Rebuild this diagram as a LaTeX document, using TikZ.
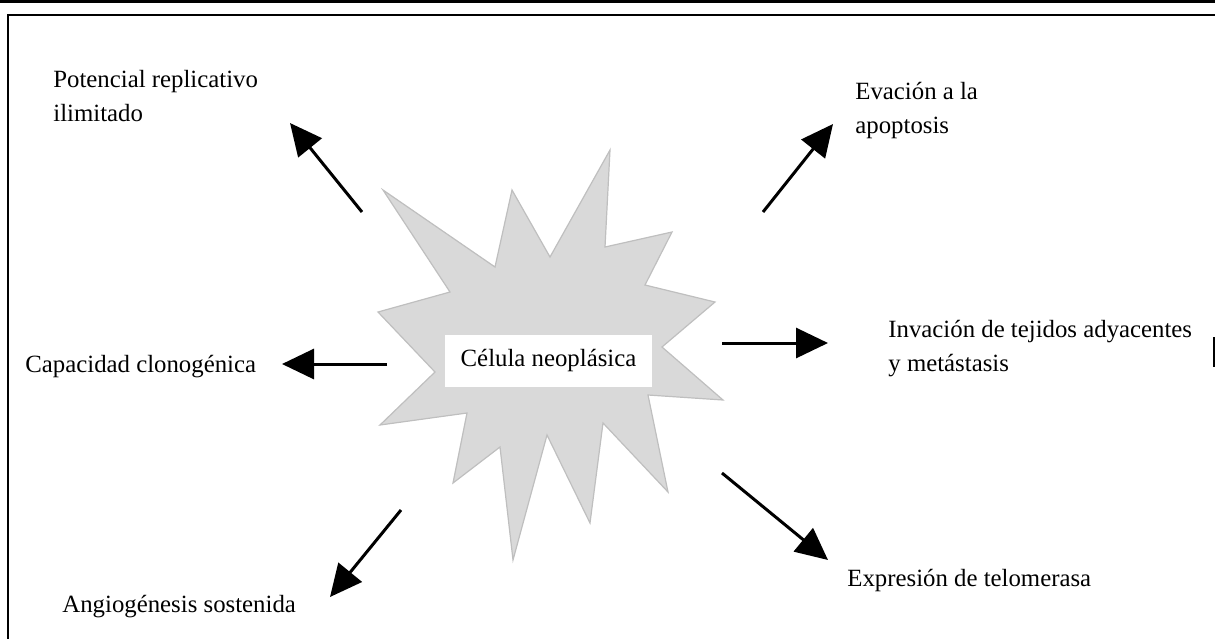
\documentclass[tikz,border=0pt]{standalone}
\usepackage{fontspec}
\setmainfont{Liberation Serif}
\usetikzlibrary{arrows.meta}

\definecolor{burstfill}{HTML}{D9D9D9}
\definecolor{burstedge}{HTML}{BFBFBF}

\tikzset{
	lbl/.style={inner sep=0pt, align=left, font=\fontsize{12.4}{17}\selectfont},
	rasgo/.style={line width=1.5pt, -{Triangle[length=16pt,width=15pt]}},
}

\begin{document}
\begin{tikzpicture}[x=0.5pt,y=-0.5pt]
		\useasboundingbox (0,0) rectangle (1215,639);
		% marco
		\draw[line width=1.3pt] (0,1.3) -- (1215,1.3);
		\draw[line width=1pt] (1215,15) -- (8,15) -- (8,639);
		\draw[line width=1pt] (1214,337) -- (1214,367);
		% celula
		\draw[fill=burstfill,draw=burstedge,line width=0.6pt]
			(383,190) -- (495,267) -- (512,190) -- (550,257) -- (610,150) -- (605,247)
			-- (672,232) -- (645,285) -- (715,302) -- (662,347) -- (723,400) -- (648,395)
			-- (668,492) -- (603,423) -- (590,523) -- (547,435) -- (513,560) -- (500,447)
			-- (453,483) -- (467,413) -- (380,425) -- (435,372) -- (378,312) -- (450,292) -- cycle;
		\node[lbl, fill=white, align=center, minimum width=103.5pt, minimum height=26pt] (celula) at (548.5,361) {Célula neoplásica};
		% rasgos (base = ultima linea)
		\node[lbl, anchor=base west] (potencial) at (53,121) {Potencial replicativo\\ilimitado};
		\node[lbl, anchor=base west] (evacion) at (855,133) {Evación a la\\apoptosis};
		\node[lbl, anchor=base west] (capacidad) at (25,372) {Capacidad clonogénica};
		\node[lbl, anchor=base west] (invacion) at (888,371) {Invación de tejidos adyacentes\\y metástasis};
		\node[lbl, anchor=base west] (angio) at (62,612) {Angiogénesis sostenida};
		\node[lbl, anchor=base west] (expresion) at (847,586) {Expresión de telomerasa};
		% flechas
		\coordinate (pot-a) at (362,212);
		\coordinate (pot-b) at (290,123);
		\coordinate (eva-a) at (763,212);
		\coordinate (eva-b) at (833,124);
		\coordinate (cap-a) at (387,364);
		\coordinate (cap-b) at (282,364);
		\coordinate (inv-a) at (722,343);
		\coordinate (inv-b) at (828,343);
		\coordinate (ang-a) at (401,510);
		\coordinate (ang-b) at (330,597);
		\coordinate (exp-a) at (722,473);
		\coordinate (exp-b) at (828,560);
		\draw[rasgo] (pot-a) -- (pot-b);
		\draw[rasgo] (eva-a) -- (eva-b);
		\draw[rasgo] (cap-a) -- (cap-b);
		\draw[rasgo] (inv-a) -- (inv-b);
		\draw[rasgo] (ang-a) -- (ang-b);
		\draw[rasgo] (exp-a) -- (exp-b);
	\end{tikzpicture}
\end{document}
